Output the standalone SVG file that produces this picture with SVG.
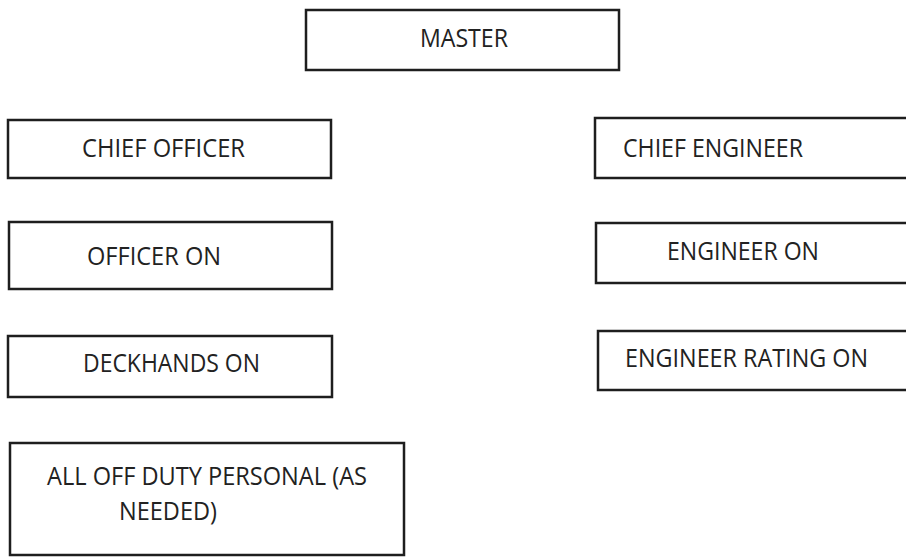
<svg xmlns="http://www.w3.org/2000/svg" width="906" height="557" viewBox="0 0 906 557">
<style>
.box{fill:#fff;stroke:#1e1e1e;stroke-width:2.5}
.t{font-family:"Open Sans","Liberation Sans",sans-serif;font-size:25px;fill:#222}
</style>
<rect width="906" height="557" fill="#fff"/>
<g id="master"><rect class="box" x="306" y="10" width="313" height="60"/><text class="t" x="420" y="47" textLength="88" lengthAdjust="spacingAndGlyphs">MASTER</text></g>
<g id="chief-officer"><rect class="box" x="8" y="120" width="323" height="58"/><text class="t" x="82" y="157" textLength="163" lengthAdjust="spacingAndGlyphs">CHIEF OFFICER</text></g>
<g id="chief-engineer"><rect class="box" x="595" y="118" width="320" height="60"/><text class="t" x="623" y="157" textLength="180" lengthAdjust="spacingAndGlyphs">CHIEF ENGINEER</text></g>
<g id="officer-on"><rect class="box" x="9" y="222" width="323" height="67"/><text class="t" x="87" y="265" textLength="134" lengthAdjust="spacingAndGlyphs">OFFICER ON</text></g>
<g id="engineer-on"><rect class="box" x="596" y="223" width="320" height="60"/><text class="t" x="667" y="260" textLength="152" lengthAdjust="spacingAndGlyphs">ENGINEER ON</text></g>
<g id="deckhands-on"><rect class="box" x="8" y="336" width="324" height="61"/><text class="t" x="83" y="372" textLength="177" lengthAdjust="spacingAndGlyphs">DECKHANDS ON</text></g>
<g id="engineer-rating-on"><rect class="box" x="598" y="331" width="320" height="59"/><text class="t" x="625" y="367" textLength="243" lengthAdjust="spacingAndGlyphs">ENGINEER RATING ON</text></g>
<g id="all-off-duty"><rect class="box" x="10" y="443" width="394" height="112"/><text class="t" x="47" y="485" textLength="320" lengthAdjust="spacingAndGlyphs">ALL OFF DUTY PERSONAL (AS</text><text class="t" x="119" y="520" textLength="98" lengthAdjust="spacingAndGlyphs">NEEDED)</text></g>
<g id="connectors"></g>
</svg>
